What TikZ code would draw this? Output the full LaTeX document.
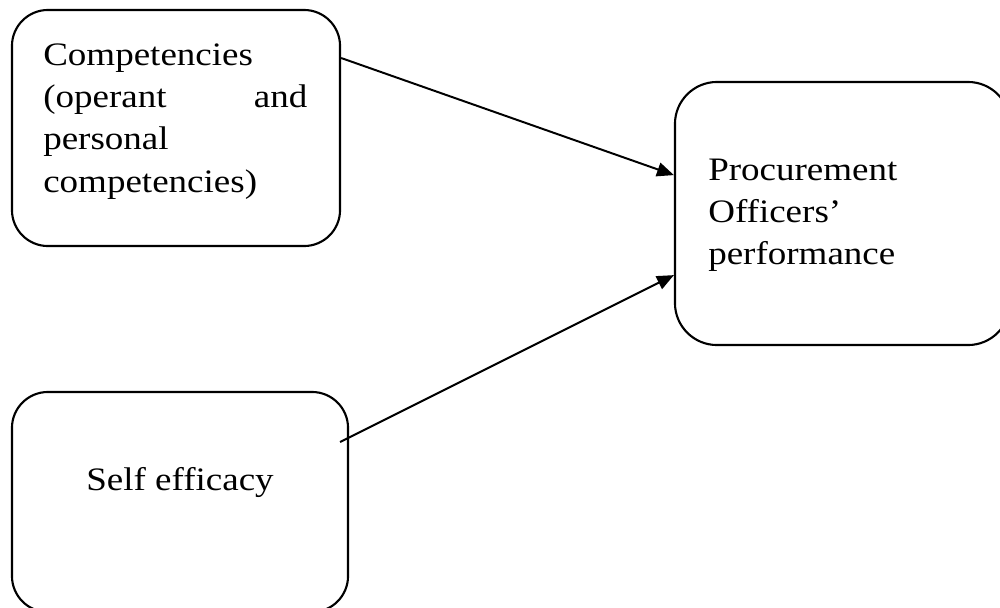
\documentclass[tikz,border=0pt]{standalone}
\usepackage{fontspec}
\setmainfont{Liberation Serif}[FakeStretch=1.13]
\usepackage{tikz}
\usetikzlibrary{arrows.meta}

\begin{document}
\begin{tikzpicture}[
    x=0.025cm, y=-0.025cm,
    box/.style={draw, line width=1.5pt, rounded corners=0.9cm, inner sep=0pt},
    txt/.style={inner sep=0pt, font=\fontsize{23.3}{30.2}\selectfont},
    arr/.style={-{Triangle[length=12pt,width=10pt]}, line width=1.4pt}
]
\clip (0,0) rectangle (1000,607);

\node[box, minimum width=8.2cm, minimum height=5.9cm] (comp) at (176,128) {};
\node[box, rounded corners=1.05cm, minimum width=8.375cm, minimum height=6.575cm] (proc) at (842.5,213.5) {};
\node[box, minimum width=8.4cm, minimum height=5.5cm] (eff) at (180,502) {};

\node[txt, anchor=base west, text width=6.6cm, align=left] (comptxt) at (43,65)
    {Competencies\\(operant\hfill and\\personal\\competencies)};
\node[txt, anchor=base west, text width=6cm, align=left] (proctxt) at (708,180)
    {Procurement\\Officers'\\performance};
\node[txt, anchor=base] (efftxt) at (180,490) {Self efficacy};

\draw[arr] ([yshift=1.75cm]comp.east) -- ([yshift=0.96cm]proc.west);
\draw[arr] ([xshift=-0.225cm, yshift=1.5cm]eff.east) -- ([yshift=-1.54cm]proc.west);
\end{tikzpicture}
\end{document}
